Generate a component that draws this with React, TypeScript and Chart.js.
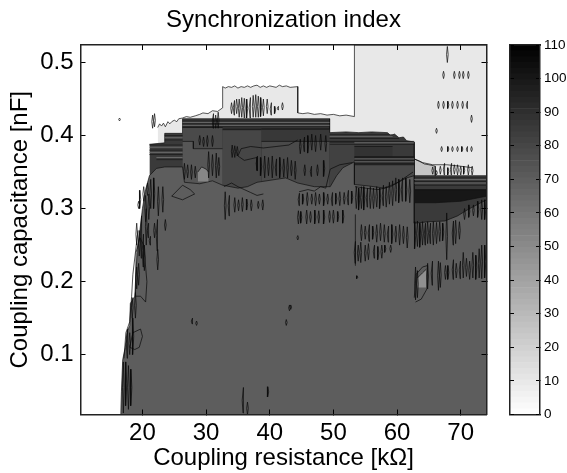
import React, { useEffect, useRef } from "react";
import { Chart, registerables } from "chart.js";

Chart.register(...registerables);

type Pt = [number, number];
type Mark = [number, number, number];

const FONT = "'Liberation Sans', Arial, sans-serif";
const xTickValues = [20, 30, 40, 50, 60, 70];
const yTickValues = [0.1, 0.2, 0.3, 0.4, 0.5];
const barTickValues = [0, 10, 20, 30, 40, 50, 60, 70, 80, 90, 100, 110];
const xRange: Pt = [10.27, 74.05];
const yRange: Pt = [0.018, 0.524];

// Filled contour bands: [index level, outline of the band's upper edge in kOhm / nF]
const lightRegion: Pt[] = [[22.4, 0.411], [22.7, 0.416], [23, 0.413], [23.3, 0.417], [23.6, 0.412], [24, 0.419], [24.3, 0.416], [24.6, 0.419], [25, 0.421], [25.4, 0.419], [25.7, 0.423], [26.3, 0.424], [26.9, 0.426], [27.5, 0.425], [28.3, 0.427], [29, 0.429], [29.5, 0.431], [30.3, 0.43], [31, 0.434], [31.8, 0.433], [32.6, 0.438], [32.6, 0.467], [33, 0.465], [33.5, 0.467], [34, 0.466], [34.5, 0.468], [35, 0.465], [35.5, 0.467], [36, 0.466], [36.5, 0.468], [37, 0.466], [37.5, 0.468], [38, 0.469], [38.5, 0.466], [39, 0.468], [39.5, 0.466], [40, 0.468], [40.5, 0.467], [41, 0.466], [41.5, 0.469], [42, 0.467], [42.6, 0.468], [43.2, 0.466], [44.4, 0.467], [44.4, 0.431], [45.2, 0.43], [46, 0.431], [47, 0.429], [48, 0.43], [49, 0.428], [50, 0.429], [51, 0.427], [52, 0.428], [53.3, 0.426], [53.3, 0.524], [74.05, 0.524]];
const palePatch: Pt[] = [[62.7, 0.368], [63.5, 0.365], [64.3, 0.361], [65, 0.36], [66, 0.358], [66, 0.345]];
const stripedOutline: Pt[] = [[21.1, 0.388], [23.5, 0.39], [23.5, 0.403], [26.3, 0.403], [26.3, 0.423], [49.4, 0.423], [49.4, 0.404], [52, 0.405], [54, 0.404], [56, 0.405], [58.5, 0.404], [59, 0.4], [59.6, 0.402], [60.3, 0.397], [61, 0.398], [61.5, 0.393], [62.7, 0.391], [62.7, 0.345], [74.05, 0.345]];
const resBlockA: Pt[] = [[26.3, 0.411], [32.6, 0.411]];
const resBlockB: Pt[] = [[26.3, 0.392], [28, 0.392], [28, 0.382], [32.6, 0.382]];
const resBlockC: Pt[] = [[32.6, 0.408], [38.7, 0.408]];
const resBlockD: Pt[] = [[38.7, 0.409], [49.4, 0.409]];
const resBlockE: Pt[] = [[38.7, 0.392], [49.4, 0.392]];
const resBlockF: Pt[] = [[49.4, 0.391], [53.3, 0.391]];
const resBlockG: Pt[] = [[53.3, 0.385], [59.3, 0.385]];
const resBlockH: Pt[] = [[53.3, 0.371], [62.7, 0.371]];
const resBlockI: Pt[] = [[53.3, 0.36], [62.7, 0.36]];
const resBlockJ: Pt[] = [[62.7, 0.326], [74.05, 0.326]];
const resBlockK: Pt[] = [[62.7, 0.308], [66, 0.308], [70, 0.31], [74.05, 0.317]];
const mainRegion: Pt[] = [[16.6, 0.018], [16.7, 0.05], [16.9, 0.093], [17.3, 0.11], [17.6, 0.132], [18, 0.14], [18.1, 0.17], [18.8, 0.18], [19, 0.216], [19.2, 0.244], [19.6, 0.27], [20, 0.3], [20.5, 0.326], [21.1, 0.345], [22.2, 0.355], [23.5, 0.357], [26.3, 0.357], [26.6, 0.336], [29, 0.334], [31, 0.338], [32.6, 0.332], [35, 0.328], [36.5, 0.33], [38, 0.336], [41, 0.34], [42.5, 0.342], [44.4, 0.335], [47, 0.33], [49.5, 0.33], [50.5, 0.345], [51.5, 0.356], [53.3, 0.364], [53.3, 0.333], [55.5, 0.331], [58, 0.328], [60, 0.335], [61.5, 0.342], [62.7, 0.345], [62.7, 0.28], [65, 0.282], [67.5, 0.283], [69.5, 0.29], [71, 0.298], [72.5, 0.305], [74.05, 0.312]];
const greyPatchA: Pt[] = [[28.7, 0.35], [29.3, 0.357], [30, 0.354], [30.4, 0.35]];
const greyPatchB: Pt[] = [[63.2, 0.205], [64, 0.212], [64.6, 0.217]];

const bandLevels = [10, 25, 85, 78, 73, 80, 86, 78, 82, 88, 90, 78, 100, 85, 70, 52, 48];
const bandBases: (number | null)[] = [null, null, null, null, null, null, null, null, null, null, null, null, null, null, null, 0.337, 0.192];
const bandOutlines = [lightRegion, palePatch, stripedOutline, resBlockA, resBlockB, resBlockC, resBlockD, resBlockE, resBlockF, resBlockG, resBlockH, resBlockI, resBlockJ, resBlockK, mainRegion, greyPatchA, greyPatchB];

// Horizontal contour stripes: [nF, kOhm from, kOhm to]
const darkStripes: Mark[] = [
  [0.42, 26.3, 49.4], [0.416, 26.3, 49.4], [0.412, 26.3, 49.4], [0.409, 32.6, 49.4],
  [0.401, 49.4, 59.3], [0.396, 49.4, 60.3], [0.392, 49.4, 62.7], [0.388, 49.4, 62.7],
  [0.37, 53.3, 62.7], [0.366, 53.3, 62.7], [0.362, 53.3, 62.7],
  [0.342, 62.7, 74.05], [0.337, 62.7, 74.05], [0.332, 62.7, 74.05],
  [0.4, 23.5, 26.3], [0.394, 23.5, 26.3], [0.387, 21.1, 26.3], [0.38, 21.1, 26.3], [0.374, 21.1, 26.3], [0.367, 22.2, 26.3],
];
const paleStripes: Mark[] = [
  [0.418, 26.3, 49.4], [0.414, 26.3, 49.4],
  [0.399, 49.4, 59.3], [0.39, 53.3, 62.7],
  [0.368, 53.3, 62.7], [0.364, 53.3, 62.7],
  [0.34, 62.7, 74.05], [0.335, 62.7, 74.05],
  [0.397, 23.5, 26.3], [0.384, 21.1, 26.3], [0.377, 21.1, 26.3], [0.37, 22.2, 26.3],
];

// Short isolated contours: [kOhm, nF low, nF high]
const lightRegionMarks: Mark[] = [
  [67.9, 0.5, 0.522], [67.3, 0.478, 0.488], [69, 0.478, 0.488], [69.8, 0.478, 0.488], [70.4, 0.478, 0.488], [71.2, 0.478, 0.488],
  [66.5, 0.437, 0.447], [67.3, 0.437, 0.447], [68, 0.437, 0.447], [68.7, 0.437, 0.447], [69.5, 0.437, 0.447], [70.3, 0.437, 0.447], [71, 0.437, 0.447],
  [71.7, 0.418, 0.428], [66.2, 0.403, 0.41],
  [67, 0.378, 0.385], [68, 0.378, 0.385], [68.7, 0.378, 0.385], [69.5, 0.378, 0.385], [70.2, 0.378, 0.385], [71, 0.378, 0.385], [71.7, 0.378, 0.385],
  [65.6, 0.347, 0.357], [66.2, 0.346, 0.352], [66.8, 0.347, 0.358], [67.4, 0.346, 0.362], [68, 0.346, 0.356], [68.5, 0.346, 0.362], [69, 0.347, 0.36], [69.5, 0.346, 0.36], [70, 0.346, 0.358], [70.5, 0.347, 0.358], [71.2, 0.346, 0.36], [71.8, 0.346, 0.358],
  [16.4, 0.42, 0.424], [21.6, 0.41, 0.428], [21.9, 0.412, 0.43], [19.4, 0.3, 0.31],
];
const blobMarks: Mark[] = [
  [34, 0.43, 0.445], [34.4, 0.428, 0.448], [34.8, 0.43, 0.45], [35.2, 0.425, 0.45], [35.6, 0.425, 0.452], [36, 0.424, 0.451], [36.4, 0.424, 0.45], [36.9, 0.424, 0.452], [37.4, 0.425, 0.455], [37.8, 0.425, 0.456], [38.2, 0.425, 0.454], [38.6, 0.426, 0.452], [39, 0.427, 0.45], [39.6, 0.43, 0.45], [40.2, 0.428, 0.445], [40.8, 0.43, 0.44], [41.3, 0.435, 0.44], [42, 0.435, 0.445],
  [31.1, 0.41, 0.43], [31.5, 0.41, 0.428], [31.9, 0.41, 0.432],
];
const blockMarks: Mark[] = [
  [29, 0.387, 0.4], [29.6, 0.385, 0.398], [30.2, 0.385, 0.4], [31, 0.385, 0.4],
  [34.1, 0.37, 0.387], [34.5, 0.37, 0.386], [34.9, 0.372, 0.385],
  [38, 0.352, 0.372], [38.6, 0.345, 0.37], [39.2, 0.342, 0.372], [39.8, 0.345, 0.37], [40.4, 0.342, 0.372], [41, 0.345, 0.368], [41.6, 0.342, 0.37], [42.2, 0.343, 0.368], [42.8, 0.342, 0.37], [43.4, 0.345, 0.366], [44, 0.34, 0.365],
  [30.4, 0.342, 0.378], [31, 0.345, 0.374], [31.6, 0.342, 0.376], [32, 0.345, 0.37],
  [26.6, 0.34, 0.362], [27.1, 0.342, 0.36], [27.7, 0.34, 0.36], [28.3, 0.342, 0.358],
  [33, 0.285, 0.323], [33.6, 0.29, 0.318],
  [34.5, 0.295, 0.315], [35.1, 0.297, 0.312], [35.7, 0.296, 0.315], [36.4, 0.298, 0.313], [37.1, 0.297, 0.312], [38.9, 0.298, 0.312], [38.2, 0.3, 0.31],
  [45.5, 0.345, 0.36], [46.5, 0.344, 0.358], [47.5, 0.345, 0.36], [48.5, 0.344, 0.366],
  [44.8, 0.375, 0.395], [45.4, 0.378, 0.398], [46, 0.376, 0.4], [46.6, 0.38, 0.402], [47.2, 0.378, 0.4], [48, 0.38, 0.402], [48.8, 0.378, 0.4],
];
const hatchMarks: Mark[] = [
  [44.6, 0.304, 0.321], [45.2, 0.306, 0.32], [45.9, 0.304, 0.322], [46.6, 0.306, 0.32], [47.2, 0.304, 0.322], [47.8, 0.306, 0.32], [48.5, 0.304, 0.322], [49.1, 0.306, 0.32], [49.8, 0.304, 0.322], [50.4, 0.306, 0.321], [51, 0.304, 0.323], [51.7, 0.306, 0.322], [52.3, 0.305, 0.325], [52.9, 0.307, 0.324],
  [44.5, 0.279, 0.297], [44.9, 0.28, 0.296], [45.8, 0.279, 0.298], [46.4, 0.281, 0.296], [47.1, 0.279, 0.298], [47.7, 0.28, 0.297], [48.5, 0.279, 0.298], [49.4, 0.281, 0.297], [50, 0.28, 0.298], [50.7, 0.282, 0.296], [51.5, 0.28, 0.298],
  [53.6, 0.3, 0.33], [54, 0.298, 0.328], [54.4, 0.3, 0.33], [54.8, 0.298, 0.33], [55.3, 0.302, 0.328], [55.8, 0.3, 0.33], [56.3, 0.3, 0.328], [56.8, 0.302, 0.33], [57.3, 0.3, 0.328], [57.8, 0.304, 0.332], [58.3, 0.302, 0.33], [58.8, 0.306, 0.336], [59.3, 0.304, 0.338], [59.8, 0.31, 0.342], [60.3, 0.308, 0.34], [60.8, 0.31, 0.342], [61.4, 0.31, 0.342], [62, 0.308, 0.34],
  [53.4, 0.225, 0.255], [53.9, 0.228, 0.25], [54.3, 0.226, 0.254], [55, 0.228, 0.25], [55.5, 0.23, 0.252], [56.4, 0.232, 0.25], [57, 0.23, 0.248], [57.6, 0.232, 0.25], [58.1, 0.24, 0.25], [59, 0.24, 0.25],
  [54.4, 0.256, 0.278], [55, 0.258, 0.276], [55.6, 0.255, 0.278], [56.2, 0.258, 0.276], [56.8, 0.254, 0.278], [57.4, 0.256, 0.28], [58, 0.254, 0.278], [58.6, 0.254, 0.276], [59.2, 0.252, 0.278], [59.8, 0.254, 0.276], [60.4, 0.25, 0.278], [61, 0.252, 0.276], [61.6, 0.246, 0.275],
  [62.8, 0.245, 0.282], [63.2, 0.248, 0.283], [63.6, 0.247, 0.28], [64, 0.25, 0.282], [64.4, 0.25, 0.28], [64.8, 0.252, 0.282], [65.2, 0.252, 0.28], [65.7, 0.25, 0.282], [66.2, 0.252, 0.281], [66.7, 0.255, 0.282], [67.2, 0.256, 0.28], [67.8, 0.23, 0.294], [68.8, 0.25, 0.283], [69.2, 0.252, 0.284], [69.8, 0.258, 0.282],
  [62.9, 0.175, 0.22], [63.2, 0.178, 0.215], [64.8, 0.19, 0.225], [65.5, 0.195, 0.228], [66.5, 0.188, 0.228], [66.8, 0.192, 0.226], [67.6, 0.203, 0.222], [68, 0.203, 0.222],
  [68.8, 0.203, 0.23], [69.3, 0.205, 0.225], [69.9, 0.204, 0.228], [70.4, 0.205, 0.24], [70.9, 0.207, 0.232], [71.4, 0.203, 0.228], [71.9, 0.205, 0.24], [72.4, 0.203, 0.236], [72.9, 0.205, 0.245], [73.3, 0.204, 0.25], [73.8, 0.205, 0.25],
  [70.6, 0.285, 0.3], [71.3, 0.288, 0.305], [72, 0.29, 0.305], [72.7, 0.288, 0.31], [73.3, 0.285, 0.312], [73.8, 0.285, 0.312],
];
const scatteredMarks: Mark[] = [
  [35.8, 0.02, 0.055], [36.5, 0.018, 0.035], [39.7, 0.042, 0.056], [43.3, 0.162, 0.168], [42.6, 0.14, 0.148], [27.8, 0.142, 0.15], [28.5, 0.14, 0.146], [44.4, 0.257, 0.263], [53.7, 0.204, 0.208], [43.1, 0.16, 0.168],
  [17, 0.02, 0.09], [17.4, 0.03, 0.09], [17.8, 0.025, 0.085], [18.2, 0.03, 0.08], [17.6, 0.095, 0.135], [18, 0.1, 0.13], [18.5, 0.1, 0.15], [18.4, 0.15, 0.178], [18.9, 0.15, 0.185], [19.1, 0.19, 0.22], [19.4, 0.195, 0.225],
  [19.1, 0.25, 0.28], [19.5, 0.235, 0.27], [19.8, 0.232, 0.29], [20.1, 0.22, 0.265], [20.3, 0.215, 0.25], [20.6, 0.25, 0.3], [20.9, 0.26, 0.28], [21.9, 0.26, 0.28], [22.3, 0.242, 0.285], [22.4, 0.216, 0.244], [23.6, 0.27, 0.285], [21.2, 0.25, 0.262],
  [19.6, 0.3, 0.325], [20.2, 0.31, 0.33], [20.8, 0.318, 0.335], [21.3, 0.3, 0.34], [22.5, 0.29, 0.33], [23.2, 0.295, 0.33], [20.5, 0.282, 0.318], [21, 0.285, 0.32], [21.8, 0.3, 0.342],
];
// Longer contours, [kOhm, nF] along each line
const contourA: Pt[] = [[18, 0.11], [18.5, 0.13], [19.7, 0.135], [20, 0.125], [19.5, 0.11], [18.8, 0.107], [18, 0.11]];
const contourB: Pt[] = [[18.9, 0.18], [19.7, 0.18], [20.5, 0.172], [20.7, 0.2], [20.2, 0.25], [19.6, 0.26], [19, 0.24], [18.9, 0.18]];
const contourC: Pt[] = [[17.1, 0.095], [17.4, 0.13], [18, 0.145], [18.3, 0.18], [18.5, 0.21], [19.3, 0.27]];
const contourD: Pt[] = [[35.5, 0.382], [37, 0.385], [39, 0.383], [41, 0.385], [43, 0.387], [44.4, 0.394]];
const contourE: Pt[] = [[35.5, 0.382], [35, 0.372], [36, 0.366], [38, 0.37], [38, 0.352]];
const contourF: Pt[] = [[24.6, 0.317], [26.3, 0.332], [27.5, 0.326], [28.2, 0.32], [26.3, 0.312], [24.6, 0.317]];
const contourG: Pt[] = [[44.6, 0.323], [46, 0.326], [47, 0.324], [48, 0.33], [48.8, 0.328], [49.5, 0.354], [51, 0.36], [53, 0.363]];
const contourH: Pt[] = [[53.4, 0.33], [55, 0.328], [57, 0.326], [59, 0.33], [60.5, 0.338], [62.5, 0.35]];
const contourI: Pt[] = [[62.7, 0.368], [64, 0.363], [65.6, 0.36], [67.8, 0.36], [70, 0.358], [71.8, 0.356]];
const contourK: Pt[] = [[53.4, 0.222], [53.4, 0.256], [53.5, 0.292]];
const contourL: Pt[] = [[62.7, 0.178], [63, 0.21], [64, 0.22], [64.8, 0.222], [64.7, 0.19], [63.8, 0.176], [62.9, 0.172]];
const contourO: Pt[] = [[32.8, 0.33], [34, 0.335], [35, 0.33], [36, 0.326], [37, 0.322], [38, 0.318], [39, 0.32]];
const longContours = [contourA, contourB, contourC, contourD, contourE, contourF, contourG, contourH, contourI, contourK, contourL, contourO];

const greyOf = (level: number) => {
  const g = Math.round(255 * (1 - level / 110));
  return `rgb(${g},${g},${g})`;
};
const GAP = { x: NaN, y: NaN };

function lineData() {
  const out: { x: number; y: number }[] = [];
  for (const line of longContours) {
    for (const [x, y] of line) out.push({ x, y });
    out.push(GAP);
  }
  for (const group of [lightRegionMarks, blobMarks, blockMarks, hatchMarks, scatteredMarks]) {
    for (const [x, lo, hi] of group) {
      const mid = (lo + hi) / 2;
      out.push({ x, y: lo }, { x: x + 0.13, y: mid }, { x, y: hi }, { x: x - 0.13, y: mid }, { x, y: lo }, GAP);
    }
  }
  return out;
}
function stripeData(list: Mark[]) {
  const out: { x: number; y: number }[] = [];
  for (const [y, from, to] of list) out.push({ x: from, y }, { x: to, y }, GAP);
  return out;
}

export default function App() {
  const mainRef = useRef<HTMLCanvasElement>(null);
  const barRef = useRef<HTMLCanvasElement>(null);

  useEffect(() => {
    const bands = bandOutlines.map((outline, i) => ({
      type: "scatter" as const,
      label: `level ${bandLevels[i]}`,
      data: outline.map(([x, y]) => ({ x, y })),
      showLine: true,
      pointRadius: 0,
      borderColor: "#111",
      borderWidth: 0.7,
      backgroundColor: greyOf(bandLevels[i]),
      fill: bandBases[i] === null ? "start" : { value: bandBases[i] },
      order: 100 - i,
    }));
    const overlays = [
      { label: "pale stripes", data: stripeData(paleStripes), borderColor: "#777", borderWidth: 0.8, order: 3 },
      { label: "dark stripes", data: stripeData(darkStripes), borderColor: "#1a1a1a", borderWidth: 0.8, order: 2 },
      { label: "contours", data: lineData(), borderColor: "#0a0a0a", borderWidth: 0.7, order: 1 },
    ].map((d) => ({ type: "scatter" as const, showLine: true, pointRadius: 0, fill: false, spanGaps: false, ...d }));

    const tickGrid = { drawOnChartArea: false, drawTicks: true, tickLength: -5, color: "#000", lineWidth: 1, z: 1 };
    const border = { display: true, color: "#222", width: 1.5, z: 1 };
    const tickFont = { family: FONT, size: 24 };
    const tickStyle = { color: "#000", font: tickFont, maxRotation: 0, autoSkip: false };

    const main = new Chart(mainRef.current!, {
      type: "scatter",
      data: { datasets: [...bands, ...overlays] as any },
      options: {
        animation: false,
        responsive: false,
        devicePixelRatio: 1,
        layout: { padding: 0 },
        plugins: {
          legend: { display: false },
          tooltip: { enabled: false },
          title: {
            display: true,
            text: "Synchronization index",
            color: "#000",
            font: { family: FONT, size: 24, weight: "normal" },
            padding: { top: 6, bottom: 0 },
          },
        },
        scales: {
          x: {
            type: "linear", position: "bottom", min: xRange[0], max: xRange[1],
            afterBuildTicks: (s: any) => { s.ticks = xTickValues.map((value) => ({ value })); },
            afterFit: (s: any) => { s.height = 58.5; },
            grid: tickGrid, border,
            ticks: { ...tickStyle, padding: 9, callback: (v: any) => String(v) },
            title: { display: true, text: "Coupling resistance [k\u03a9]", color: "#000", font: { family: FONT, size: 24 }, padding: { top: 0, bottom: 0 } },
          },
          x2: {
            type: "linear", position: "top", min: xRange[0], max: xRange[1],
            afterBuildTicks: (s: any) => { s.ticks = xTickValues.map((value) => ({ value })); },
            afterFit: (s: any) => { s.height = 10.2; },
            grid: tickGrid, border,
            ticks: { display: false },
          },
          y: {
            type: "linear", position: "left", min: yRange[0], max: yRange[1],
            afterBuildTicks: (s: any) => { s.ticks = yTickValues.map((value) => ({ value })); },
            afterFit: (s: any) => { s.width = 80.5; },
            grid: tickGrid, border,
            ticks: { ...tickStyle, padding: 12, callback: (v: any) => Number(v).toFixed(1) },
            title: { display: true, text: "Coupling capacitance [nF]", color: "#000", font: { family: FONT, size: 24 }, padding: { top: 6, bottom: 0 } },
          },
          y2: {
            type: "linear", position: "right", min: yRange[0], max: yRange[1],
            afterBuildTicks: (s: any) => { s.ticks = yTickValues.map((value) => ({ value })); },
            afterFit: (s: any) => { s.width = 80.5; },
            grid: tickGrid, border,
            ticks: { display: false },
          },
        },
      } as any,
    });

    const shades = 64;
    const barDatasets = Array.from({ length: shades }, (_, i) => ({
      label: `shade ${i}`,
      data: [110 / shades],
      backgroundColor: greyOf(((i + 0.5) * 110) / shades),
      borderWidth: 0,
      barPercentage: 1,
      categoryPercentage: 1,
      stack: "bar",
    }));
    const barGrid = { drawOnChartArea: false, drawTicks: true, tickLength: -4, color: "#000", lineWidth: 1, z: 1 };
    const bar = new Chart(barRef.current!, {
      type: "bar",
      data: { labels: [""], datasets: barDatasets },
      options: {
        animation: false,
        responsive: false,
        devicePixelRatio: 1,
        layout: { padding: { top: 45, bottom: 58.5 } },
        plugins: { legend: { display: false }, tooltip: { enabled: false } },
        scales: {
          x: { stacked: true, grid: { display: false }, border: { display: true, color: "#222", width: 1.5, z: 1 }, ticks: { display: false }, afterFit: (s: any) => { s.height = 0; } },
          xTop: { type: "category", position: "top", grid: { display: false }, border: { display: true, color: "#222", width: 1.5, z: 1 }, ticks: { display: false }, afterFit: (s: any) => { s.height = 0; } },
          y: {
            stacked: true, position: "right", min: 0, max: 110,
            afterBuildTicks: (s: any) => { s.ticks = barTickValues.map((value) => ({ value })); },
            afterFit: (s: any) => { s.width = 27; },
            grid: barGrid, border: { display: true, color: "#222", width: 1.5, z: 1 },
            ticks: { color: "#000", font: { family: FONT, size: 13.5 }, padding: 8, autoSkip: false, callback: (v: any) => String(v) },
          },
          yLeft: {
            position: "left", min: 0, max: 110,
            afterBuildTicks: (s: any) => { s.ticks = barTickValues.map((value) => ({ value })); },
            afterFit: (s: any) => { s.width = 20; },
            grid: barGrid, border: { display: true, color: "#222", width: 1.5, z: 1 },
            ticks: { display: false },
          },
        },
      } as any,
    });

    return () => {
      main.destroy();
      bar.destroy();
    };
  }, []);

  return (
    <div style={{ position: "fixed", left: 0, top: 0, width: 567, height: 473, background: "#fff" }}>
      <canvas ref={mainRef} width={567} height={473} style={{ position: "absolute", left: 0, top: 0, display: "block" }} />
      <canvas ref={barRef} width={77} height={473} style={{ position: "absolute", left: 490, top: 0, display: "block" }} />
    </div>
  );
}
